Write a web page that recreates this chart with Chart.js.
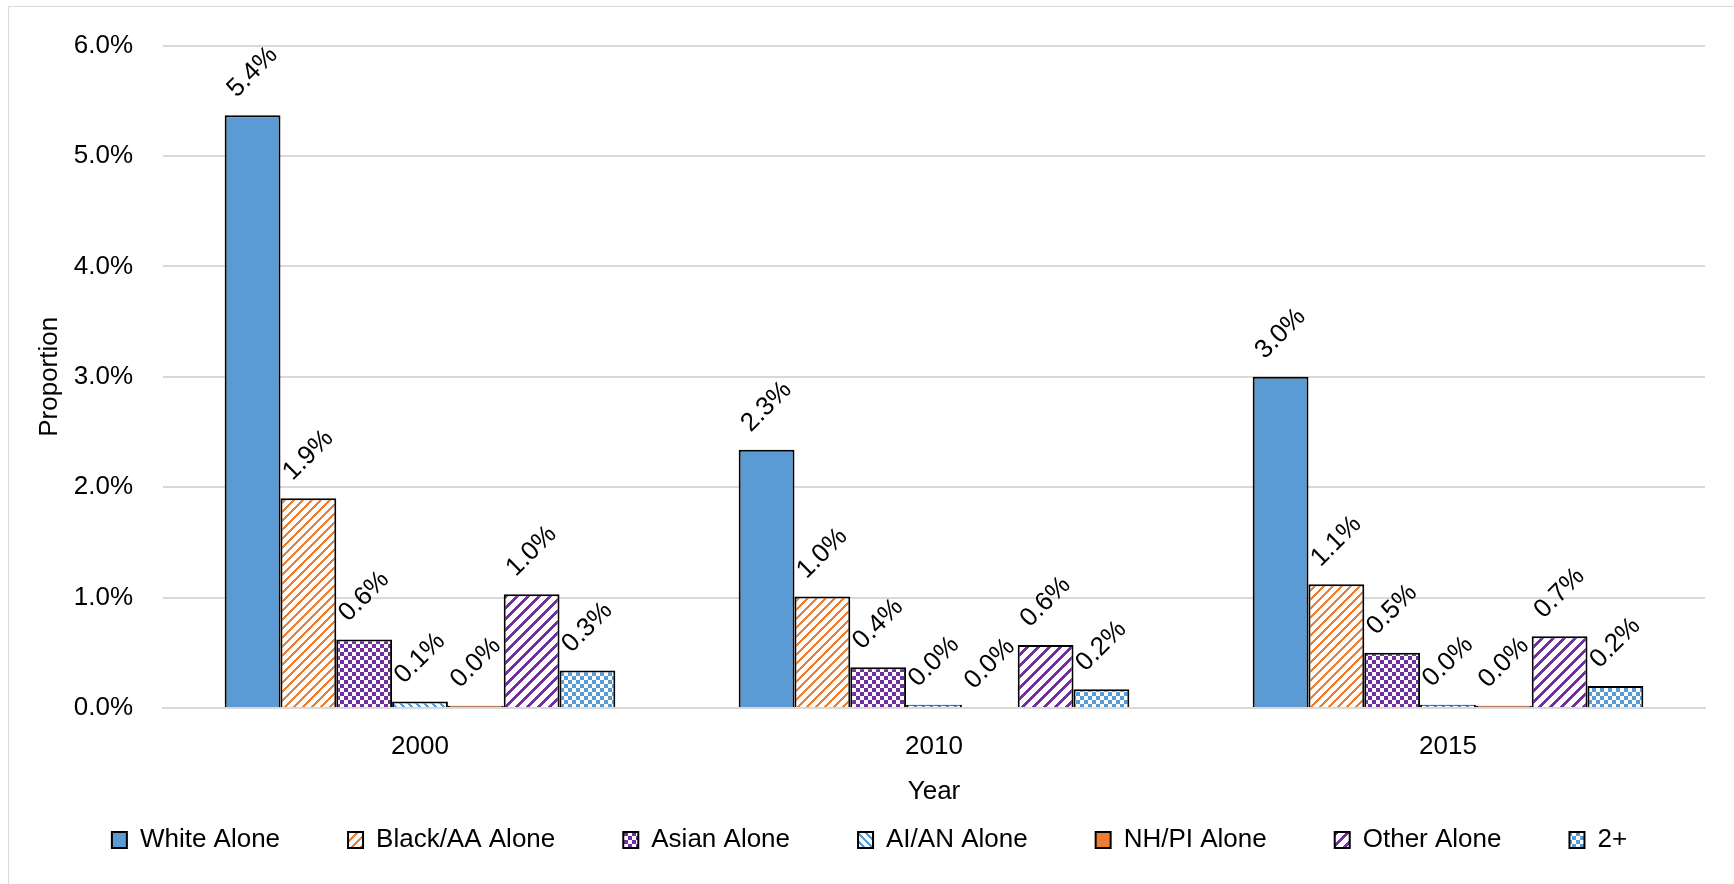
<!DOCTYPE html>
<html>
<head>
<meta charset="utf-8">
<script src="https://cdn.jsdelivr.net/npm/chart.js@4"></script>
<style>
  html, body { margin: 0; padding: 0; background: #fff; overflow: hidden; }
  #frame { position: absolute; left: 8px; top: 6px; width: 1800px; height: 1000px; border: 1px solid #d9d9d9; }
  #wrap { position: absolute; left: 0; top: 0; width: 1734px; height: 884px; }
</style>
</head>
<body>
<div id="frame"></div>
<div id="wrap"><canvas id="grafico"></canvas></div>
<script>
const anos = ['2000', '2010', '2015'];
const whiteAlone = [5.37, 2.34, 3.00];
const blackAlone = [1.90, 1.01, 1.12];
const asianAlone = [0.62, 0.37, 0.50];
const aianAlone = [0.06, 0.03, 0.03];
const nhpiAlone = [0.02, 0.01, 0.02];
const otherAlone = [1.03, 0.57, 0.65];
const twoPlus = [0.34, 0.17, 0.20];
const yTicks = [0, 1, 2, 3, 4, 5, 6];

const AZUL = '#5B9BD5';
const LARANJA = '#ED7D31';
const ROXO = '#7030A0';
const FONTE = '"Liberation Sans", Arial, sans-serif';

// padroes tipo excel, pixel a pixel
function padrao(tipo, cor, s, t) {
    const c = document.createElement('canvas');
    c.width = s; c.height = s;
    const g = c.getContext('2d');
    g.fillStyle = '#fff';
    g.fillRect(0, 0, s, s);
    g.fillStyle = cor;
    for (let x = 0; x < s; x++) {
        for (let y = 0; y < s; y++) {
            let on;
            if (tipo === 'sobe') on = ((x + y) % s) < t;
            else if (tipo === 'desce') on = ((x - y + s * 10) % s) < t;
            else on = (Math.floor(x / t) + Math.floor(y / t)) % 2 === 0;
            if (on) g.fillRect(x, y, 1, 1);
        }
    }
    return g.createPattern(c, 'repeat');
}

Chart.defaults.font.family = FONTE;
Chart.defaults.color = '#000';

const rotulos = {
    id: 'rotulos',
    afterDatasetsDraw(chart) {
        const ctx = chart.ctx;
        ctx.save();
        ctx.font = '26px ' + FONTE;
        ctx.fillStyle = '#000';
        ctx.textAlign = 'center';
        ctx.textBaseline = 'middle';
        chart.data.datasets.forEach((ds, i) => {
            chart.getDatasetMeta(i).data.forEach((bar, j) => {
                ctx.save();
                ctx.translate(bar.x, bar.y - 43);
                ctx.rotate(-Math.PI / 4);
                ctx.fillText(ds.data[j].toFixed(1) + '%', 0, 0);
                ctx.restore();
            });
        });
        ctx.restore();
    }
};

const ctx = document.getElementById('grafico').getContext('2d');
new Chart(ctx, {
    type: 'bar',
    data: {
        labels: anos,
        datasets: [
            { label: 'White Alone', data: whiteAlone, backgroundColor: AZUL },
            { label: 'Black/AA Alone', data: blackAlone, backgroundColor: padrao('sobe', LARANJA, 9, 3) },
            { label: 'Asian Alone', data: asianAlone, backgroundColor: padrao('xadrez', ROXO, 8, 4) },
            { label: 'AI/AN Alone', data: aianAlone, backgroundColor: padrao('desce', AZUL, 8, 3) },
            { label: 'NH/PI Alone', data: nhpiAlone, backgroundColor: LARANJA },
            { label: 'Other Alone', data: otherAlone, backgroundColor: padrao('sobe', ROXO, 11, 4) },
            { label: '2+', data: twoPlus, backgroundColor: padrao('xadrez', AZUL, 8, 4) }
        ].map(d => Object.assign(d, {
            borderColor: '#000',
            borderWidth: 2,
            categoryPercentage: 0.76,
            barPercentage: 1.0
        }))
    },
    options: {
        responsive: true,
        maintainAspectRatio: false,
        animation: false,
        layout: { padding: { left: 34, right: 29, top: 44, bottom: 21 } },
        plugins: {
            legend: {
                position: 'bottom',
                labels: {
                    font: { size: 26 },
                    boxWidth: 15,
                    boxHeight: 16,
                    padding: 68,
                    color: '#000'
                }
            },
            tooltip: { enabled: false }
        },
        scales: {
            x: {
                grid: { display: false, drawTicks: false },
                border: { color: '#d9d9d9', width: 2 },
                ticks: { font: { size: 26 }, padding: 23, color: '#000' },
                title: { display: true, text: 'Year', font: { size: 26 }, color: '#000', padding: { top: 0, bottom: -48 } },
                afterFit: s => { s.height = 51; }
            },
            y: {
                min: 0,
                max: 6,
                grid: { color: '#d9d9d9', lineWidth: 2, drawTicks: false },
                border: { display: false },
                afterBuildTicks: s => { s.ticks = yTicks.map(v => ({ value: v })); },
                ticks: {
                    font: { size: 26 },
                    padding: 30,
                    color: '#000',
                    callback: v => v.toFixed(1) + '%'
                },
                title: { display: true, text: 'Proportion', font: { size: 26 }, color: '#000', padding: { top: 0, bottom: 0 } },
                afterFit: s => { s.width = 129; }
            }
        }
    },
    plugins: [rotulos]
});
</script>
</body>
</html>
